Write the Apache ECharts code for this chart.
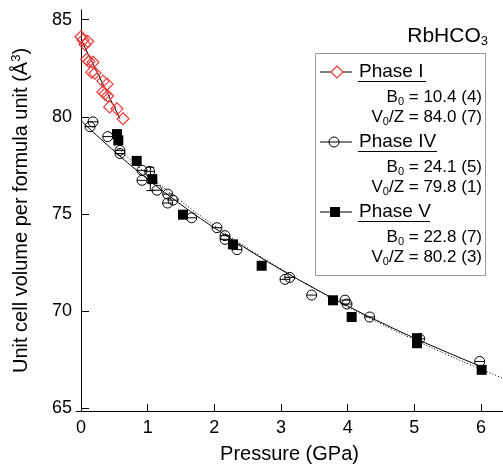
<!DOCTYPE html>
<html>
<head>
<meta charset="utf-8">
<script src="https://cdn.jsdelivr.net/npm/echarts@6/dist/echarts.min.js"></script>
<style>
html, body { margin: 0; padding: 0; background: #fff; }
#chart { width: 503px; height: 469px; }
</style>
</head>
<body>
<div id="chart"></div>
<script>
// values
var phase1P = [0.00, 0.03, 0.06, 0.10, 0.085, 0.12, 0.18, 0.16, 0.21, 0.33, 0.39, 0.33, 0.36, 0.40, 0.43, 0.54, 0.63];
var phase1V = [84.12, 83.95, 83.72, 83.88, 82.96, 82.85, 82.81, 82.30, 82.25, 81.84, 81.68, 81.28, 81.17, 81.07, 80.51, 80.41, 79.90];

var phase4P = [0.18, 0.135, 0.40, 0.585, 0.585, 0.915, 1.03, 0.915, 1.14, 1.30, 1.38, 1.30, 1.66, 2.04, 2.16, 2.16, 2.34, 3.06, 3.13, 3.46, 3.96, 3.99, 4.33, 5.08, 5.98];
var phase4V = [79.74, 79.49, 78.98, 78.27, 78.11, 77.24, 77.19, 76.73, 76.22, 76.02, 75.71, 75.56, 74.80, 74.29, 73.88, 73.69, 73.16, 71.63, 71.73, 70.82, 70.56, 70.36, 69.69, 68.57, 67.40];

var phase5P = [0.54, 0.56, 0.835, 1.07, 1.53, 2.28, 2.71, 3.78, 4.06, 5.04, 5.04, 6.01];
var phase5V = [79.11, 78.79, 77.73, 76.79, 74.96, 73.43, 72.33, 70.55, 69.69, 68.60, 68.34, 66.97];

var errP = [1.04];
var errLow = [76.2];
var errHigh = [77.4];

// fitted curves as traced
var fit1P = [0.00, 0.585];
var fit1V = [83.98, 79.90];
var fit4P = [0.0, 0.5, 1.0, 1.5, 2.0, 2.5, 3.0, 3.5, 4.0, 4.5, 5.0, 5.5, 6.0];
var fit4V = [79.80, 78.23, 76.79, 75.48, 74.28, 73.17, 72.13, 71.17, 70.26, 69.41, 68.61, 67.86, 67.14];
var fit5P = [0.5, 1.0, 1.5, 2.0, 2.5, 3.0, 3.5, 4.0, 4.5, 5.0, 5.5, 6.0, 6.35];
var fit5V = [78.53, 77.03, 75.65, 74.40, 73.23, 72.16, 71.15, 70.22, 69.34, 68.52, 67.74, 67.00, 66.51];

var xTicks = [0, 1, 2, 3, 4, 5, 6];
var yTicks = [65, 70, 75, 80, 85];

var phaseNames = ['Phase I', 'Phase IV', 'Phase V'];
var phaseB0 = ['10.4 (4)', '24.1 (5)', '22.8 (7)'];
var phaseV0 = ['84.0 (7)', '79.8 (1)', '80.2 (3)'];

var FONT = 'Liberation Sans, Arial, Helvetica, sans-serif';

function pairs(xs, ys) {
    var out = [];
    for (var i = 0; i < xs.length; i++) out.push([xs[i], ys[i]]);
    return out;
}

var circleBar = 'path://M0,5A5,5 0 1,1 10,5A5,5 0 1,1 0,5ZM0,5L10,5';

var dom = document.getElementById('chart');
var myChart = echarts.init(dom, null, { renderer: 'canvas' });
var option;

// legend drawn by hand (underlined names, parameter lines)
var legendY = [72, 142, 212];
var legendEls = [{
    type: 'rect',
    shape: { x: 315.5, y: 53.5, width: 170, height: 222 },
    style: { fill: '#fff', stroke: '#999', lineWidth: 1 },
    z: 10
}];
var rich = {
    n: { fontSize: 17, fontFamily: FONT, color: '#000' },
    s: { fontSize: 11, fontFamily: FONT, color: '#000', padding: [9, 0, 0, 0] }
};
for (var k = 0; k < 3; k++) {
    var ly = legendY[k];
    legendEls.push({ type: 'line', shape: { x1: 320, y1: ly, x2: 352, y2: ly }, style: { stroke: '#000', lineWidth: 1 }, z: 11 });
    if (k === 0) {
        legendEls.push({ type: 'polygon', shape: { points: [[337, ly - 6], [343, ly], [337, ly + 6], [331, ly]] }, style: { fill: '#fff', stroke: '#ef3b3b', lineWidth: 1.2 }, z: 12 });
    } else if (k === 1) {
        legendEls.push({ type: 'circle', shape: { cx: 334, cy: ly, r: 5 }, style: { fill: 'rgba(0,0,0,0)', stroke: '#000', lineWidth: 1 }, z: 12 });
    } else {
        legendEls.push({ type: 'rect', shape: { x: 330, y: ly - 5, width: 10, height: 10 }, style: { fill: '#000' }, z: 12 });
    }
    legendEls.push({ type: 'text', x: 359, y: ly, style: { text: phaseNames[k], font: '19px ' + FONT, fill: '#000', verticalAlign: 'middle' }, z: 12 });
    var uw = [68, 79, 72][k];
    legendEls.push({ type: 'line', shape: { x1: 358, y1: ly + 9.5, x2: 358 + uw, y2: ly + 9.5 }, style: { stroke: '#000', lineWidth: 1 }, z: 12 });
    legendEls.push({ type: 'text', x: 482, y: ly + 25, style: { text: '{n|B}{s|0}{n| = ' + phaseB0[k] + '}', rich: rich, align: 'right', verticalAlign: 'middle' }, z: 12 });
    legendEls.push({ type: 'text', x: 482, y: ly + 45, style: { text: '{n|V}{s|0}{n|/Z = ' + phaseV0[k] + '}', rich: rich, align: 'right', verticalAlign: 'middle' }, z: 12 });
}
legendEls.push({
    type: 'text', x: 488, y: 36,
    style: {
        text: '{n|RbHCO}{s|3}',
        rich: {
            n: { fontSize: 21, fontFamily: FONT, color: '#000' },
            s: { fontSize: 13, fontFamily: FONT, color: '#000', padding: [11, 0, 0, 0] }
        },
        align: 'right', verticalAlign: 'middle'
    },
    z: 12
});

function renderErr(params, api) {
    var x = api.value(0);
    var pLo = api.coord([x, api.value(1)]);
    var pHi = api.coord([x, api.value(2)]);
    var st = { stroke: '#000', lineWidth: 1 };
    return {
        type: 'group',
        children: [
            { type: 'line', shape: { x1: pLo[0], y1: pLo[1], x2: pHi[0], y2: pHi[1] }, style: st },
            { type: 'line', shape: { x1: pHi[0] - 4, y1: pHi[1], x2: pHi[0] + 4, y2: pHi[1] }, style: st },
            { type: 'line', shape: { x1: pLo[0] - 4, y1: pLo[1], x2: pLo[0] + 4, y2: pLo[1] }, style: st }
        ]
    };
}

option = {
    animation: false,
    backgroundColor: '#fff',
    grid: { left: 76, right: 0, top: 10, bottom: 54 },
    xAxis: {
        type: 'value',
        min: -0.075,
        max: 6.33,
        name: 'Pressure (GPa)',
        nameLocation: 'middle',
        nameGap: 33,
        nameTextStyle: { fontSize: 20, fontFamily: FONT, color: '#000' },
        axisLine: { lineStyle: { color: '#000', width: 1 } },
        axisTick: { inside: true, length: 7, customValues: xTicks, lineStyle: { color: '#000' } },
        axisLabel: { customValues: xTicks, fontSize: 18, fontFamily: FONT, color: '#000', margin: 8 },
        splitLine: { show: false }
    },
    yAxis: {
        type: 'value',
        min: 64.85,
        max: 85.5,
        name: 'Unit cell volume per formula unit (Å{p|3})',
        nameLocation: 'middle',
        nameGap: 44,
        nameTextStyle: {
            fontSize: 20, fontFamily: FONT, color: '#000',
            rich: { p: { fontSize: 13, fontFamily: FONT, color: '#000', padding: [0, 0, 9, 0] } }
        },
        axisLine: { lineStyle: { color: '#000', width: 1 } },
        axisTick: { inside: true, length: 8, customValues: yTicks, lineStyle: { color: '#000' } },
        axisLabel: { customValues: yTicks, fontSize: 18, fontFamily: FONT, color: '#000', margin: 4 },
        splitLine: { show: false }
    },
    graphic: legendEls,
    series: [
        {
            name: 'Phase I fit', type: 'line', data: pairs(fit1P, fit1V), showSymbol: false,
            lineStyle: { color: '#000', width: 1 }, z: 2
        },
        {
            name: 'Phase IV fit', type: 'line', data: pairs(fit4P, fit4V), showSymbol: false, smooth: true,
            lineStyle: { color: '#000', width: 1 }, z: 2
        },
        {
            name: 'Phase V fit', type: 'line', data: pairs(fit5P, fit5V), showSymbol: false, smooth: true,
            lineStyle: { color: '#000', width: 1, type: [1, 2] }, z: 2
        },
        {
            name: 'Phase I', type: 'scatter', data: pairs(phase1P, phase1V),
            symbol: 'diamond', symbolSize: 12,
            itemStyle: { color: 'rgba(255,255,255,0)', borderColor: '#ef3b3b', borderWidth: 1.2, opacity: 1 }, z: 4
        },
        {
            name: 'Phase IV', type: 'scatter', data: pairs(phase4P, phase4V),
            symbol: circleBar, symbolSize: 10,
            itemStyle: { color: 'rgba(255,255,255,0)', borderColor: '#000', borderWidth: 1, opacity: 1 }, z: 4
        },
        {
            name: 'Phase V', type: 'scatter', data: pairs(phase5P, phase5V),
            symbol: 'rect', symbolSize: 10,
            itemStyle: { color: '#000', opacity: 1 }, z: 3
        },
        {
            name: 'error', type: 'custom', renderItem: renderErr,
            data: [[errP[0], errLow[0], errHigh[0]]], z: 3
        }
    ]
};

if (option && typeof option === 'object') {
    myChart.setOption(option);
}
</script>
</body>
</html>
